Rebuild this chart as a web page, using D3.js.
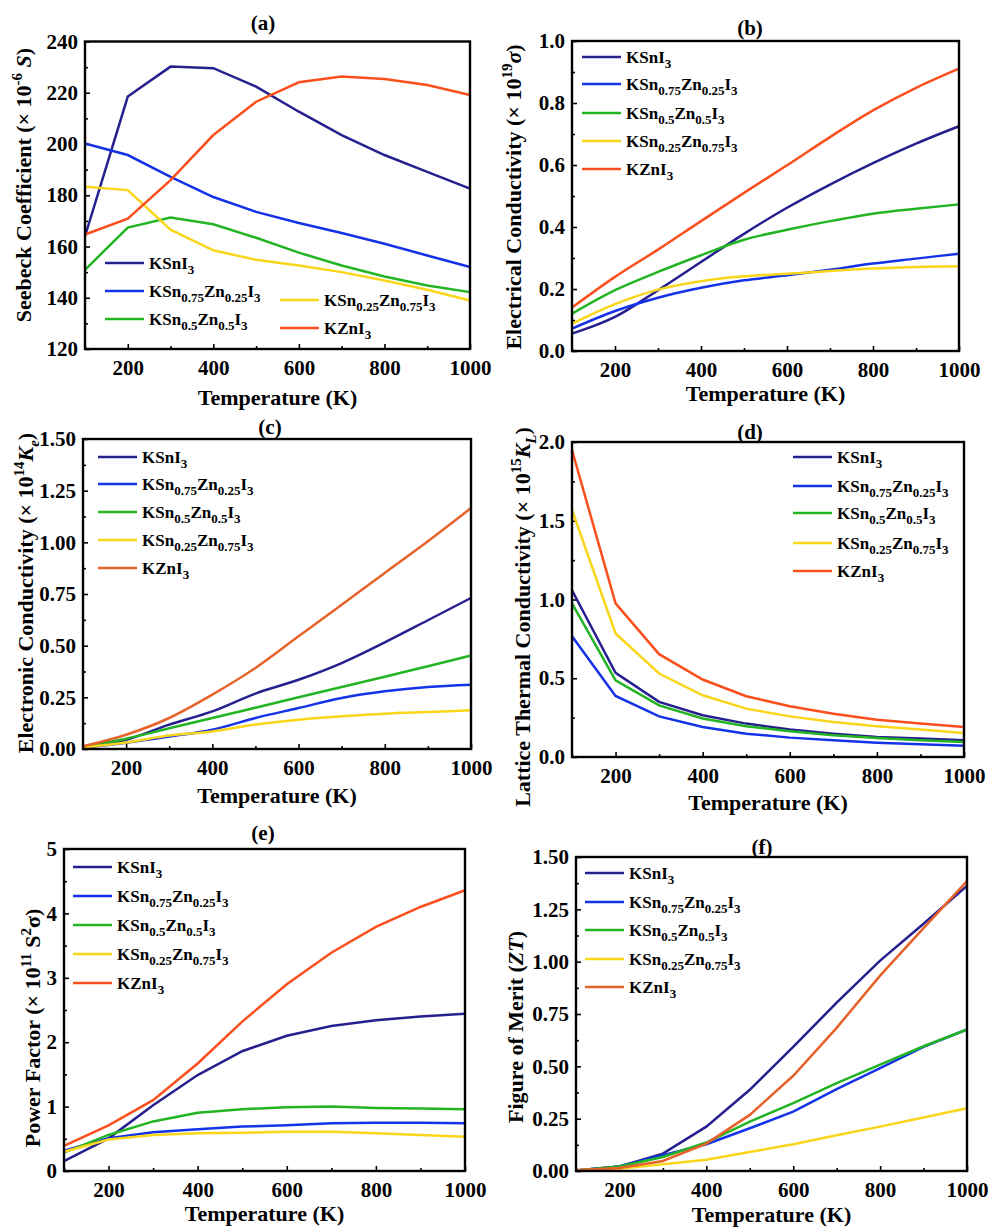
<!DOCTYPE html>
<html>
<head>
<meta charset="utf-8">
<script src="https://cdn.jsdelivr.net/npm/d3@7"></script>
<style>
  body { margin: 0; background: #fff; }
</style>
</head>
<body>
<div id="chart"></div>
<script>
// temperatures (K)
var temps = [100, 200, 300, 400, 500, 600, 700, 800, 900, 1000];

// series names, "_x" marks a subscript
var seriesNames = ["KSnI_3", "KSn_0.75Zn_0.25I_3", "KSn_0.5Zn_0.5I_3", "KSn_0.25Zn_0.75I_3", "KZnI_3"];
var colors = ["#261f8e", "#1432e8", "#22b422", "#fad61a", "#fb4f1e"];
var colorsAlt = ["#261f8e", "#1432e8", "#22b422", "#fad61a", "#e6622a"];

// (a) Seebeck coefficient (x 10^-6 S)
var seebeck = [
  [164, 218.5, 230.2, 229.6, 222.4, 212.6, 203.5, 195.7, 189.1, 182.6],
  [200.2, 195.7, 187.2, 179.3, 173.5, 169.2, 165.3, 161.1, 156.5, 152],
  [150.9, 167.4, 171.3, 168.7, 163.4, 157.6, 152.6, 148.3, 144.8, 142.2],
  [183.3, 182, 166.6, 158.5, 154.8, 152.6, 150, 146.7, 143.1, 138.9],
  [164.7, 170.9, 185.9, 203.5, 216.5, 224.1, 226.3, 225.4, 223, 219.1]
];

// (b) electrical conductivity (x 10^19 sigma)
var elecCond = [
  [0.056, 0.11, 0.196, 0.287, 0.378, 0.462, 0.537, 0.606, 0.669, 0.725],
  [0.072, 0.129, 0.172, 0.204, 0.228, 0.244, 0.262, 0.282, 0.298, 0.314],
  [0.12, 0.196, 0.255, 0.309, 0.359, 0.391, 0.419, 0.443, 0.459, 0.473],
  [0.088, 0.151, 0.198, 0.225, 0.241, 0.249, 0.258, 0.266, 0.271, 0.273],
  [0.14, 0.239, 0.327, 0.419, 0.51, 0.599, 0.69, 0.776, 0.849, 0.911]
];

// (c) electronic thermal conductivity (x 10^14 Ke)
var electronic = [
  [0.01, 0.045, 0.118, 0.182, 0.268, 0.335, 0.416, 0.516, 0.623, 0.731],
  [0.005, 0.03, 0.06, 0.093, 0.15, 0.198, 0.247, 0.279, 0.3, 0.311],
  [0.012, 0.05, 0.1, 0.15, 0.2, 0.25, 0.3, 0.35, 0.4, 0.452],
  [0.008, 0.032, 0.065, 0.085, 0.118, 0.142, 0.158, 0.171, 0.179, 0.187],
  [0.013, 0.069, 0.15, 0.263, 0.392, 0.545, 0.698, 0.852, 1.005, 1.166]
];

// (d) lattice thermal conductivity (x 10^15 KL)
var lattice = [
  [1.059, 0.534, 0.35, 0.265, 0.212, 0.174, 0.148, 0.127, 0.117, 0.106],
  [0.767, 0.388, 0.258, 0.191, 0.148, 0.123, 0.106, 0.091, 0.081, 0.072],
  [0.975, 0.487, 0.328, 0.244, 0.195, 0.163, 0.138, 0.121, 0.106, 0.095],
  [1.568, 0.784, 0.53, 0.392, 0.307, 0.258, 0.222, 0.195, 0.174, 0.153],
  [1.949, 0.975, 0.653, 0.492, 0.386, 0.322, 0.275, 0.237, 0.212, 0.191]
];

// (e) power factor (x 10^11 S^2 sigma)
var powerFactor = [
  [0.155, 0.507, 1.02, 1.49, 1.86, 2.1, 2.25, 2.34, 2.4, 2.44],
  [0.315, 0.507, 0.6, 0.65, 0.69, 0.71, 0.74, 0.75, 0.75, 0.74],
  [0.285, 0.56, 0.77, 0.905, 0.96, 0.99, 1.0, 0.98, 0.97, 0.96],
  [0.3, 0.49, 0.56, 0.585, 0.595, 0.61, 0.61, 0.585, 0.56, 0.53],
  [0.39, 0.71, 1.1, 1.67, 2.32, 2.9, 3.39, 3.79, 4.1, 4.36]
];

// (f) figure of merit ZT
var zt = [
  [0.003, 0.022, 0.083, 0.212, 0.388, 0.593, 0.804, 1.005, 1.181, 1.362],
  [0.003, 0.022, 0.075, 0.128, 0.204, 0.284, 0.391, 0.492, 0.593, 0.676],
  [0.003, 0.022, 0.067, 0.136, 0.236, 0.324, 0.42, 0.508, 0.596, 0.676],
  [0.003, 0.011, 0.032, 0.054, 0.091, 0.128, 0.171, 0.212, 0.256, 0.3],
  [0.003, 0.014, 0.048, 0.131, 0.268, 0.455, 0.684, 0.933, 1.16, 1.385]
];

var FONT = "'Liberation Serif', 'Times New Roman', 'DejaVu Serif', serif";

var svg = d3.select("#chart").append("svg")
    .attr("width", 989)
    .attr("height", 1227)
    .attr("font-family", FONT)
    .attr("font-weight", "bold");

// writes "KSn_0.75Zn_0.25I_3" style labels with subscripts
function subText(sel, str, size, subSize) {
    var parts = str.split(/_([\d.]+)/);
    var shift = 0;
    parts.forEach(function(p, i) {
        if (p === "") return;
        var isSub = i % 2 == 1;
        var want = isSub ? 5 : 0;
        sel.append("tspan")
            .attr("dy", want - shift)
            .attr("font-size", isSub ? subSize : size)
            .text(p);
        shift = want;
    });
}

function panel(cfg) {
    var x = d3.scaleLinear([100, 1000], [cfg.left, cfg.right]);
    var y = d3.scaleLinear(cfg.ydom, [cfg.bottom, cfg.top]);
    var g = svg.append("g");

    // minor ticks
    var xMinor = d3.axisBottom(x).tickValues([100, 300, 500, 700, 900]).tickFormat("").tickSize(-3);
    var yMinor = d3.axisLeft(y).tickValues(cfg.yminor).tickFormat("").tickSize(-3);
    g.append("g").attr("class", "minor").attr("transform", "translate(0," + cfg.bottom + ")").call(xMinor);
    g.append("g").attr("class", "minor").attr("transform", "translate(" + cfg.left + ",0)").call(yMinor);
    g.selectAll(".minor text").remove();

    var xAxis = d3.axisBottom(x).tickValues([200, 400, 600, 800, 1000]).tickFormat(d3.format("d")).tickSize(-5).tickPadding(11);
    var yAxis = d3.axisLeft(y).tickValues(cfg.yticks).tickFormat(d3.format(cfg.fmt)).tickSize(-5).tickPadding(7);
    g.append("g").attr("class", "x axis").attr("transform", "translate(0," + cfg.bottom + ")").call(xAxis);
    g.append("g").attr("class", "y axis").attr("transform", "translate(" + cfg.left + ",0)").call(yAxis);

    g.selectAll(".domain").remove();
    g.selectAll(".tick line").attr("stroke", "#000").attr("stroke-width", 1.6);
    g.selectAll("g").attr("font-family", FONT).attr("font-size", 21);
    g.selectAll(".tick text").attr("font-size", 21).attr("fill", "#000");

    var line = d3.line()
        .x(function(d, i) { return x(temps[i]); })
        .y(function(d) { return y(d); })
        .curve(cfg.curve || d3.curveLinear);

    g.selectAll("path.series")
        .data(cfg.data)
        .enter().append("path")
        .attr("class", "series")
        .attr("fill", "none")
        .attr("stroke", function(d, i) { return cfg.colors[i]; })
        .attr("stroke-width", 2.5)
        .attr("d", line);

    // frame
    g.append("rect")
        .attr("x", cfg.left).attr("y", cfg.top)
        .attr("width", cfg.right - cfg.left).attr("height", cfg.bottom - cfg.top)
        .attr("fill", "none").attr("stroke", "#000").attr("stroke-width", 2.4);

    // legend
    cfg.legend.forEach(function(L, i) {
        g.append("line")
            .attr("x1", L[0]).attr("x2", L[0] + 39)
            .attr("y1", L[1]).attr("y2", L[1])
            .attr("stroke", cfg.colors[i]).attr("stroke-width", 2.5);
        var t = g.append("text").attr("x", L[0] + 44).attr("y", L[1] + 6).attr("font-size", 17);
        subText(t, seriesNames[i], 17, 13);
    });

    // titles
    g.append("text")
        .attr("x", cfg.title[0]).attr("y", cfg.title[1])
        .attr("text-anchor", "middle").attr("dy", "0.35em")
        .attr("font-size", 21)
        .text(cfg.name);

    g.append("text")
        .attr("x", (cfg.left + cfg.right) / 2).attr("y", cfg.xlab)
        .attr("text-anchor", "middle").attr("dy", "0.35em")
        .attr("font-size", 22)
        .text("Temperature (K)");

    var yl = g.append("text")
        .attr("transform", "translate(" + cfg.ylab[0] + "," + cfg.ylab[1] + ") rotate(-90)")
        .attr("text-anchor", "middle").attr("dy", "0.35em")
        .attr("font-size", 22);
    cfg.ytitle.forEach(function(s) {
        var ts = yl.append("tspan").attr("font-size", 22).text(s.t);
        if (s.it) ts.attr("font-style", "italic");
        if (s.sup) ts.attr("font-size", 15).attr("dy", -9);
        if (s.sub) ts.attr("font-size", 15).attr("dy", 6);
        if (s.back) ts.attr("dy", s.back);
    });
}

panel({
    name: "(a)", left: 85, right: 470, top: 41.5, bottom: 349,
    ydom: [120, 240], yticks: d3.range(120, 241, 20), yminor: d3.range(130, 240, 20), fmt: "d",
    data: seebeck, colors: colors,
    title: [263, 23], xlab: 397, ylab: [23, 185],
    ytitle: [{t: "Seebeck Coefficient (\u00d7 10"}, {t: "-6", sup: true}, {t: " S", it: true, back: 9}, {t: ")"}],
    legend: [[105, 263], [105, 291], [105, 319], [280, 300], [280, 328]]
});

panel({
    name: "(b)", left: 572, right: 959, top: 41, bottom: 351,
    ydom: [0, 1], yticks: d3.range(0, 1.01, 0.2), yminor: [0.1, 0.3, 0.5, 0.7, 0.9], fmt: ".1f",
    data: elecCond, colors: colors, curve: d3.curveMonotoneX,
    title: [750, 28], xlab: 393, ylab: [513, 197],
    ytitle: [{t: "Electrical Conductivity (\u00d7 10"}, {t: "19", sup: true}, {t: "\u03c3", it: true, back: 9}, {t: ")"}],
    legend: [[582, 57], [582, 84], [582, 113], [582, 141], [582, 169]]
});

panel({
    name: "(c)", left: 83, right: 471, top: 439, bottom: 749,
    ydom: [0, 1.5], yticks: d3.range(0, 1.51, 0.25), yminor: [0.125, 0.375, 0.625, 0.875, 1.125, 1.375], fmt: ".2f",
    data: electronic, colors: colorsAlt, curve: d3.curveMonotoneX,
    title: [270, 427], xlab: 795, ylab: [25, 593],
    ytitle: [{t: "Electronic Conductivity (\u00d7 10"}, {t: "14", sup: true}, {t: "K", it: true, back: 9}, {t: "e", it: true, sub: true}, {t: ")", back: -6}],
    legend: [[98, 457], [98, 484], [98, 512], [98, 540], [98, 568]]
});

panel({
    name: "(d)", left: 572, right: 964, top: 442, bottom: 757,
    ydom: [0, 2], yticks: d3.range(0, 2.01, 0.5), yminor: [0.25, 0.75, 1.25, 1.75], fmt: ".1f",
    data: lattice, colors: colors,
    title: [750, 432], xlab: 802, ylab: [522, 617],
    ytitle: [{t: "Lattice Thermal Conductivity (\u00d7 10"}, {t: "15", sup: true}, {t: "K", it: true, back: 9}, {t: "L", it: true, sub: true}, {t: ")", back: -6}],
    legend: [[793, 457], [793, 486], [793, 513], [793, 543], [793, 571]]
});

panel({
    name: "(e)", left: 64, right: 465, top: 849, bottom: 1171,
    ydom: [0, 5], yticks: d3.range(0, 5.01, 1), yminor: [0.5, 1.5, 2.5, 3.5, 4.5], fmt: "d",
    data: powerFactor, colors: colors,
    title: [263, 833], xlab: 1213, ylab: [32, 1028],
    ytitle: [{t: "Power Factor (\u00d7 10"}, {t: "11", sup: true}, {t: " S", back: 9}, {t: "2", sup: true}, {t: "\u03c3)", back: 9}],
    legend: [[73, 867], [73, 896], [73, 925], [73, 954], [73, 983]]
});

panel({
    name: "(f)", left: 576, right: 967, top: 857, bottom: 1171,
    ydom: [0, 1.5], yticks: d3.range(0, 1.51, 0.25), yminor: [0.125, 0.375, 0.625, 0.875, 1.125, 1.375], fmt: ".2f",
    data: zt, colors: colorsAlt,
    title: [762, 847], xlab: 1214, ylab: [515, 1027],
    ytitle: [{t: "Figure of Merit ("}, {t: "ZT", it: true}, {t: ")"}],
    legend: [[585, 873], [585, 902], [585, 930], [585, 959], [585, 987]]
});
</script>
</body>
</html>
